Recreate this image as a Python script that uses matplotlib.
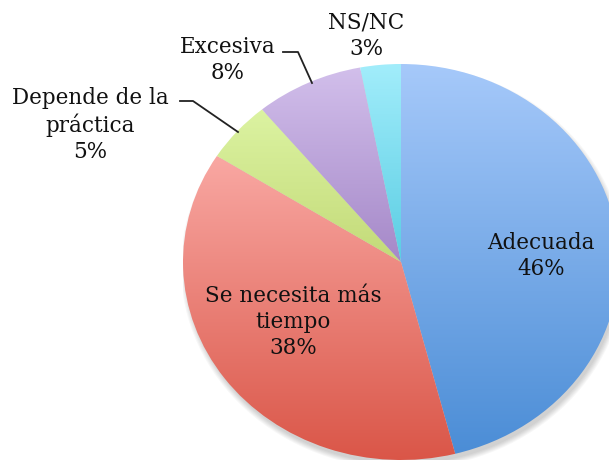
import numpy as np
import matplotlib.pyplot as plt
from matplotlib.colors import LinearSegmentedColormap
from matplotlib.patches import Ellipse

categories = ['Adecuada', 'Se necesita más tiempo', 'Depende de la práctica', 'Excesiva', 'NS/NC']
values = [46, 38, 5, 8, 3]
label_texts = ['Adecuada\n46%', 'Se necesita más\ntiempo\n38%', 'Depende de la\npráctica\n5%',
               'Excesiva\n8%', 'NS/NC\n3%']
top_colors = ['#a6c9fa', '#f9a8a3', '#dcf3a2', '#d2bfeb', '#a2edfb']
bottom_colors = ['#4b8dd6', '#da5648', '#c3da78', '#a588c8', '#5acde3']

W, H = 609, 461
fig = plt.figure(figsize=(W / 100, H / 100), dpi=100)
ax = fig.add_axes([183 / W, 1 / H, 436 / W, 396 / H])

# soft shadow (bottom-right)
for k in range(6):
    ax.add_patch(Ellipse((0.01, -0.025), 1.99 + 0.01 * k, 1.99 + 0.01 * k,
                         facecolor='black', edgecolor='none', alpha=0.03, zorder=0))

wedges, _ = ax.pie(values, startangle=90, counterclock=False, radius=1,
                   wedgeprops=dict(linewidth=0))
grad = np.linspace(0, 1, 256).reshape(-1, 1)
for w, tc, bc in zip(wedges, top_colors, bottom_colors):
    w.set_facecolor('none')
    t = np.radians(np.linspace(w.theta1, w.theta2, 200))
    xs = np.concatenate([[0], np.cos(t)])
    ys = np.concatenate([[0], np.sin(t)])
    cmap = LinearSegmentedColormap.from_list('g', [bc, tc])
    im = ax.imshow(grad, cmap=cmap, extent=(xs.min(), xs.max(), ys.min(), ys.max()),
                   origin='lower', aspect='auto', interpolation='bilinear', zorder=1)
    im.set_clip_path(w)
ax.set_aspect('auto')
ax.set_xlim(-1, 1)
ax.set_ylim(-1, 1)
ax.axis('off')

# overlay for labels in pixel coordinates
ov = fig.add_axes([0, 0, 1, 1])
ov.set_xlim(0, W)
ov.set_ylim(H, 0)
ov.axis('off')
label_pos = [(541, 256), (293, 322), (90, 125), (228, 60), (366, 36)]
for txt, (x, y) in zip(label_texts, label_pos):
    ov.text(x, y, txt, ha='center', va='center', fontsize=15.5, family='DejaVu Serif',
            color='#111111', linespacing=1.25)

# leader lines
ov.plot([180, 193, 238], [101, 101, 132], color='#222222', lw=1.3)
ov.plot([283, 298, 312], [52, 52, 83], color='#222222', lw=1.3)

fig.savefig('out.png', dpi=100)
